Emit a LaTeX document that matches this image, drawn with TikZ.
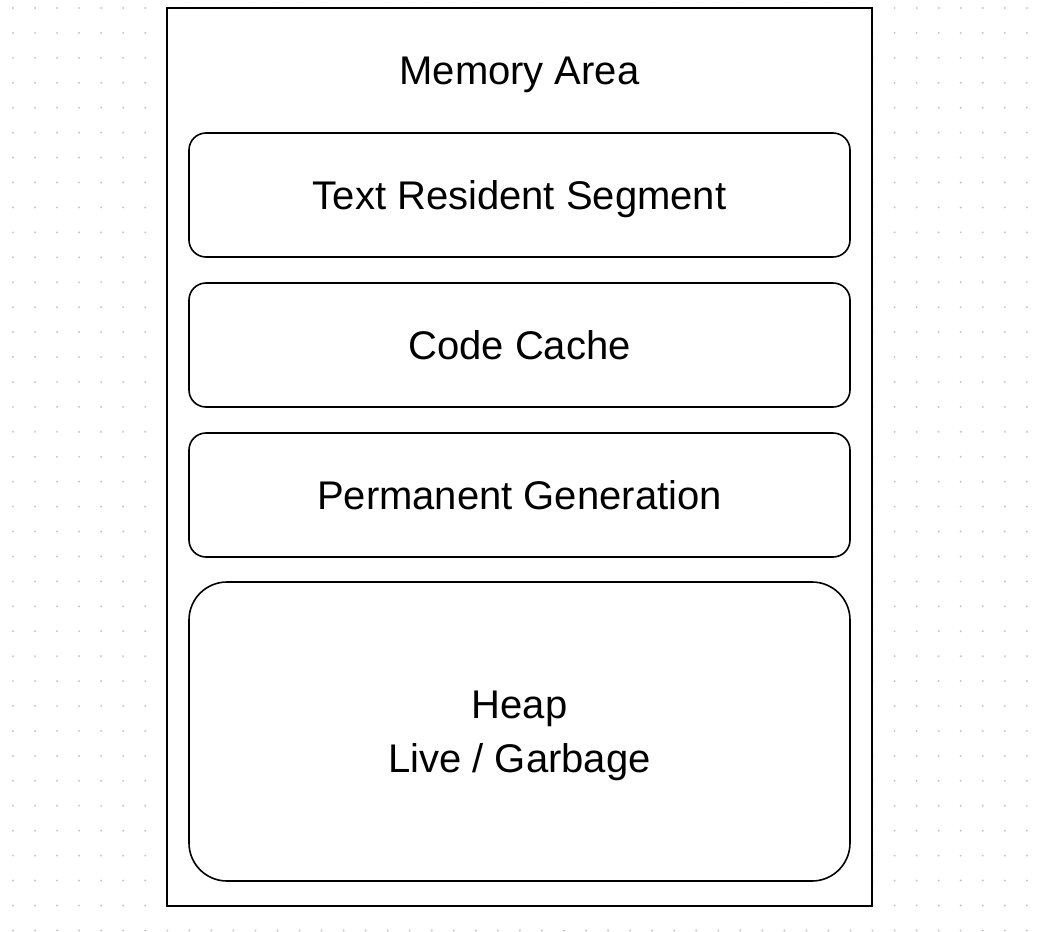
\documentclass[tikz,border=0pt]{standalone}
\usepackage{fontspec}
\setmainfont{Liberation Sans}
\usetikzlibrary{positioning}

\tikzset{
  areabox/.style={draw, line width=1.6pt, minimum width=661pt, inner sep=0pt, outer sep=0pt},
  smallseg/.style={areabox, rounded corners=17pt, minimum height=124pt,
    text height=28.5pt, text depth=0pt},
  bigseg/.style={areabox, rounded corners=38pt, minimum height=299pt, align=center,
    text height=91pt},
}

\begin{document}
\begin{tikzpicture}[x=1pt,y=-1pt, every node/.style={font=\fontsize{40}{54}\selectfont}]
\useasboundingbox (0,0) rectangle (1045,932);

% grid of dots
\foreach \i in {0,...,46}
  \foreach \j in {0,...,37}
    \fill[gray!45] (13+22.04*\i,8+24.93*\j) circle (1.1pt);

\draw[fill=white, line width=2pt] (167,8) rectangle (872,906);
\node (mem) at (519.5,70) [text height=28.5pt, text depth=0pt] {Memory Area};

\node[smallseg] (trs) at (519.5,195) {Text Resident Segment};
\node[smallseg, below=26pt of trs] (cache) {Code Cache};
\node[smallseg, below=26pt of cache] (perm) {Permanent Generation};
\node[bigseg, below=25pt of perm] (heap) {Heap\\Live / Garbage};

\end{tikzpicture}
\end{document}
